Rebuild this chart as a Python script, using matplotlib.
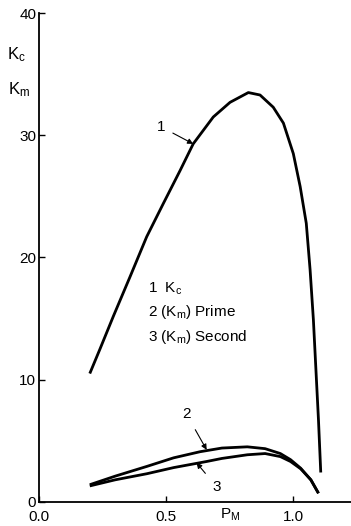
import matplotlib
matplotlib.use("Agg")
import matplotlib.pyplot as plt

plt.rcParams['font.family'] = ['Liberation Sans', 'DejaVu Sans']
plt.rcParams['mathtext.fontset'] = 'custom'
plt.rcParams['mathtext.rm'] = 'Liberation Sans'
plt.rcParams['mathtext.it'] = 'Liberation Sans'

# curve 1: Kc
p1 = [0.20, 0.24, 0.293, 0.358, 0.424, 0.489, 0.555, 0.607, 0.686, 0.752, 0.824,
      0.87, 0.922, 0.962, 1.001, 1.028, 1.052, 1.067, 1.08, 1.09, 1.10, 1.109]
k1 = [10.5, 12.5, 15.2, 18.4, 21.7, 24.4, 27.1, 29.3, 31.5, 32.7, 33.5,
      33.3, 32.3, 31.0, 28.5, 25.8, 22.8, 19.0, 14.9, 10.8, 6.7, 2.4]
# curve 2: (Km) Prime
p2 = [0.20, 0.30, 0.425, 0.53, 0.634, 0.72, 0.82, 0.89, 0.95, 0.99, 1.03, 1.07, 1.10]
k2 = [1.4, 2.1, 2.9, 3.6, 4.1, 4.4, 4.5, 4.35, 3.95, 3.45, 2.75, 1.8, 0.7]
# curve 3: (Km) Second
p3 = [0.20, 0.30, 0.425, 0.53, 0.66, 0.72, 0.82, 0.89, 0.95, 0.99, 1.03, 1.07, 1.10]
k3 = [1.3, 1.8, 2.3, 2.8, 3.3, 3.55, 3.85, 3.95, 3.7, 3.3, 2.7, 1.8, 0.7]

xticks = [0.0, 0.5, 1.0]
yticks = [0, 10, 20, 30, 40]

fig = plt.figure(figsize=(3.51, 5.26), dpi=100)
ax = fig.add_axes([0.111, 0.046, 0.889, 0.929])

for p, k in [(p1, k1), (p2, k2), (p3, k3)]:
    ax.plot(p, k, color='black', lw=2.0, solid_capstyle='butt',
            solid_joinstyle='round')

ax.set_xlim(0, 1.228)
ax.set_ylim(0, 40)
ax.set_xticks(xticks)
ax.set_xticklabels(['0.0', '0.5', '1.0'])
ax.set_yticks(yticks)
ax.tick_params(direction='in', length=4, width=1, labelsize=11, pad=2)
ax.tick_params(axis='x', pad=6)
for s in ['top', 'right']:
    ax.spines[s].set_visible(False)
for s in ['left', 'bottom']:
    ax.spines[s].set_linewidth(1.3)

# axis labels
fig.text(0.048, 0.897, r'K$_\mathregular{c}$', fontsize=12, ha='center', va='center')
fig.text(0.055, 0.830, r'K$_\mathregular{m}$', fontsize=12, ha='center', va='center')
fig.text(0.655, 0.022, r'P$_\mathregular{M}$', fontsize=11, ha='center', va='center')

# curve labels with arrows
ax.annotate('1', xy=(0.607, 29.3), xytext=(0.48, 30.7), fontsize=11,
            ha='center', va='center',
            arrowprops=dict(arrowstyle='-|>', color='black', lw=0.8,
                            shrinkA=4, shrinkB=0, mutation_scale=8))
ax.annotate('2', xy=(0.66, 4.25), xytext=(0.58, 7.2), fontsize=11,
            ha='center', va='center',
            arrowprops=dict(arrowstyle='-|>', color='black', lw=0.8,
                            shrinkA=5, shrinkB=0, mutation_scale=8))
ax.annotate('3', xy=(0.62, 3.2), xytext=(0.70, 1.2), fontsize=11,
            ha='center', va='center',
            arrowprops=dict(arrowstyle='-|>', color='black', lw=0.8,
                            shrinkA=5, shrinkB=0, mutation_scale=8))

# key
ax.text(0.43, 17.4, r'1  K$_\mathregular{c}$', fontsize=11, va='center')
ax.text(0.43, 15.5, r'2 (K$_\mathregular{m}$) Prime', fontsize=11, va='center')
ax.text(0.43, 13.5, r'3 (K$_\mathregular{m}$) Second', fontsize=11, va='center')

fig.savefig('out.png', dpi=100)
